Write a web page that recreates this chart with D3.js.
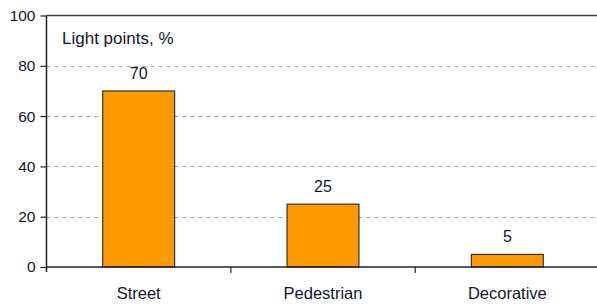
<!DOCTYPE html>
<html>
<head>
<meta charset="utf-8">
<script src="https://cdn.jsdelivr.net/npm/d3@7"></script>
<style>
  body { margin: 0; background: #fff; }
  text { font-family: "Liberation Sans", Arial, sans-serif; fill: #15152a; }
</style>
</head>
<body>
<svg width="597" height="307"></svg>
<script>
var categories = ["Street", "Pedestrian", "Decorative"];
var values = [70, 25, 5];
var yTicks = [0, 20, 40, 60, 80, 100];
var unitLabel = "Light points, %";

var svg = d3.select("svg");
var plotLeft = 46.5, plotRight = 599.5, plotTop = 15.5, plotBottom = 267;

var x = d3.scaleBand().domain(categories).range([plotLeft, plotRight]);
var y = d3.scaleLinear().domain([0, 100]).range([plotBottom, plotTop]);
var barW = x.bandwidth() * 0.39;

// dashed grid
svg.append("g").selectAll("line")
    .data(yTicks.filter(function(d){ return d > 0 && d < 100; }))
    .enter().append("line")
    .attr("x1", plotLeft).attr("x2", plotRight)
    .attr("y1", function(d){ return Math.round(y(d)) + 0.5; })
    .attr("y2", function(d){ return Math.round(y(d)) + 0.5; })
    .attr("stroke", "#a8a8a8")
    .attr("stroke-dasharray", "4,4");

// top line
svg.append("line")
    .attr("x1", plotLeft).attr("x2", plotRight)
    .attr("y1", y(100)).attr("y2", y(100))
    .attr("stroke", "#444").attr("stroke-width", 1.5);

// bars
svg.append("g").selectAll("rect")
    .data(values)
    .enter().append("rect")
    .attr("x", function(d, i){ return x(categories[i]) + (x.bandwidth() - barW) / 2; })
    .attr("y", function(d){ return y(d); })
    .attr("width", barW)
    .attr("height", function(d){ return y(0) - y(d); })
    .attr("fill", "#ff9900")
    .attr("stroke", "#333")
    .attr("stroke-width", 1.2);

// value labels
svg.append("g").selectAll("text")
    .data(values)
    .enter().append("text")
    .attr("x", function(d, i){ return x(categories[i]) + x.bandwidth() / 2; })
    .attr("y", function(d){ return y(d) - 12; })
    .attr("text-anchor", "middle")
    .attr("font-size", 16)
    .text(function(d){ return d; });

// y axis
var yAxis = d3.axisLeft(y).tickValues(yTicks).tickSize(6).tickPadding(5);
var gy = svg.append("g").attr("transform", "translate(" + plotLeft + ",0)").call(yAxis);
gy.select(".domain").attr("stroke", "#222").attr("stroke-width", 1.5).attr("d", "M0," + (plotBottom + 5) + "V" + plotTop);
gy.selectAll(".tick line").attr("stroke", "#222").attr("stroke-width", 1.2);
gy.selectAll(".tick text").attr("font-size", 15.5).attr("font-family", "Liberation Sans, Arial, sans-serif").attr("fill", "#15152a");

// x axis
svg.append("line")
    .attr("x1", plotLeft).attr("x2", plotRight)
    .attr("y1", plotBottom).attr("y2", plotBottom)
    .attr("stroke", "#222").attr("stroke-width", 1.5);
svg.append("g").selectAll("line")
    .data(categories.slice(1))
    .enter().append("line")
    .attr("x1", function(d){ return x(d); }).attr("x2", function(d){ return x(d); })
    .attr("y1", plotBottom).attr("y2", plotBottom + 6)
    .attr("stroke", "#222").attr("stroke-width", 1.2);

svg.append("g").selectAll("text")
    .data(categories)
    .enter().append("text")
    .attr("x", function(d){ return x(d) + x.bandwidth() / 2; })
    .attr("y", 299)
    .attr("text-anchor", "middle")
    .attr("font-size", 16.5)
    .text(function(d){ return d; });

svg.append("text")
    .attr("x", 62).attr("y", 43.5)
    .attr("font-size", 17)
    .text(unitLabel);
</script>
</body>
</html>
